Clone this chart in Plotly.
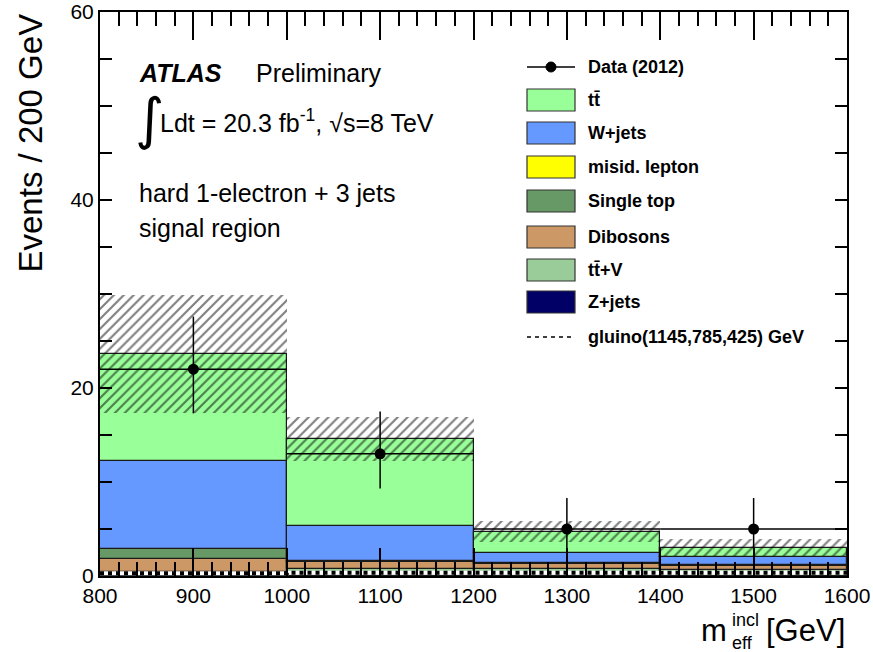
import numpy as np
import plotly.graph_objects as go

# Binning of m_eff^incl [GeV]
bin_edges = [800, 1000, 1200, 1400, 1600]
bin_centers = [900, 1100, 1300, 1500]
bin_width = 200

# Background expectations per bin (stack order: bottom -> top)
zjets = [0.02, 0.02, 0.02, 0.02]
ttv = [0.44, 0.69, 0.69, 0.62]
dibosons = [1.32, 0.81, 0.53, 0.42]
single_top = [1.06, 0.11, 0.11, 0.11]
misid = [0.0, 0.0, 0.0, 0.0]
wjets = [9.39, 3.72, 1.13, 0.82]
ttbar = [11.37, 9.22, 2.23, 1.01]

# Total background uncertainty (symmetric)
bkg_unc = [6.3, 2.38, 1.12, 0.9]

# Observed data with asymmetric Poisson errors
data = [22, 13, 5, 5]
data_err_up = [5.6, 4.5, 3.3, 3.3]
data_err_down = [4.7, 3.7, 2.16, 2.16]

# Signal benchmark
gluino = [0.3, 0.35, 0.35, 0.35]

components = [
    ("Z+jets", zjets, "#000066"),
    ("tt\u0304+V", ttv, "#99cc99"),
    ("Dibosons", dibosons, "#cc9966"),
    ("Single top", single_top, "#669966"),
    ("misid. lepton", misid, "#ffff00"),
    ("W+jets", wjets, "#6699ff"),
    ("tt\u0304", ttbar, "#99ff99"),
]

fig = go.Figure()

base = np.zeros(len(bin_centers))
for name, vals, color in components:
    vals = np.array(vals)
    fig.add_trace(go.Bar(
        x=bin_centers, y=vals, base=base, width=bin_width,
        marker=dict(color=color, line=dict(color="#1a1a1a", width=1.2)),
        name=name, showlegend=False, hoverinfo="skip",
    ))
    base = base + vals
total = base

# Signal line drawn over the lowest part of the stack
sig_y = gluino + [gluino[-1]]
fig.add_trace(go.Scatter(
    x=bin_edges, y=sig_y, mode="lines", line=dict(color="white", width=4, shape="hv"),
    showlegend=False, hoverinfo="skip"))
fig.add_trace(go.Scatter(
    x=bin_edges, y=sig_y, mode="lines",
    line=dict(color="black", width=4, shape="hv", dash="4px,4px"),
    showlegend=False, hoverinfo="skip"))

# Uncertainty band (hatched)
unc = np.array(bkg_unc)
fig.add_trace(go.Bar(
    x=bin_centers, y=2 * unc, base=total - unc, width=bin_width,
    marker=dict(color="rgba(0,0,0,0)", line=dict(width=0),
                pattern=dict(shape="/", fgcolor="black", bgcolor="rgba(0,0,0,0)",
                             size=7, solidity=0.3, fillmode="overlay")),
    showlegend=False, hoverinfo="skip"))

# Data
fig.add_trace(go.Scatter(
    x=bin_centers, y=data, mode="markers",
    marker=dict(color="black", size=11),
    error_y=dict(type="data", symmetric=False, array=data_err_up,
                 arrayminus=data_err_down, color="black", thickness=1.5, width=0),
    error_x=dict(type="constant", value=bin_width / 2, color="black",
                 thickness=1.5, width=0),
    showlegend=False, hoverinfo="skip"))

FONT = "Liberation Sans, Arial, Helvetica, sans-serif"

L, R, T, B = 100, 847, 12, 576
W, H = 873, 652


def px(x):
    return (x - L) / (R - L)


def py(y):
    return (B - y) / (B - T)


annotations = []
shapes = []


def text(x, y, s, size, xanchor="left", yanchor="middle", family=FONT, angle=0):
    annotations.append(dict(
        x=px(x), y=py(y), xref="paper", yref="paper", text=s, showarrow=False,
        xanchor=xanchor, yanchor=yanchor, textangle=angle,
        font=dict(size=size, color="black", family=family)))


# Labels inside the frame
text(137, 73, "<b><i>ATLAS</i></b>", 25)
text(254, 73, "Preliminary", 25)
text(133, 119, "\u222b", 56, family="DejaVu Sans")
text(158, 121, "Ldt = 20.3 fb<sup>-1</sup>, \u221as=8 TeV", 25)
text(137, 193, "hard 1-electron + 3 jets", 25)
text(137, 228, "signal region", 25)

# Legend
leg_x0, leg_x1 = 527, 575
leg_text_x = 586
rows = [67, 100, 133, 167, 201, 237, 270, 302, 337]

shapes.append(dict(type="line", xref="paper", yref="paper",
                   x0=px(leg_x0), x1=px(leg_x1), y0=py(rows[0]), y1=py(rows[0]),
                   line=dict(color="black", width=1.5)))
shapes.append(dict(type="circle", xref="paper", yref="paper",
                   x0=px(546), x1=px(556), y0=py(rows[0] + 5), y1=py(rows[0] - 5),
                   fillcolor="black", line=dict(color="black", width=1)))
text(leg_text_x, rows[0], "<b>Data (2012)</b>", 18)

legend_boxes = list(reversed(components))
for (name, _, color), ry in zip(legend_boxes, rows[1:8]):
    shapes.append(dict(type="rect", xref="paper", yref="paper",
                       x0=px(leg_x0), x1=px(leg_x1), y0=py(ry + 11), y1=py(ry - 11),
                       fillcolor=color, line=dict(color="#333333", width=1.2)))
    text(leg_text_x, ry, "<b>%s</b>" % name, 18)

shapes.append(dict(type="line", xref="paper", yref="paper",
                   x0=px(leg_x0), x1=px(leg_x1), y0=py(rows[8]), y1=py(rows[8]),
                   line=dict(color="black", width=1.6, dash="4px,4px")))
text(leg_text_x, rows[8], "<b>gluino(1145,785,425) GeV</b>", 18)

# Axis titles
text(30, 12, "Events / 200 GeV", 33, xanchor="center", yanchor="top", angle=-90)
text(729, 630, "m", 31, xanchor="right")
text(730, 620, "incl", 18)
text(730, 643, "eff", 18)
text(847, 630, "[GeV]", 31, xanchor="right")

fig.update_layout(
    width=W, height=H,
    margin=dict(l=L, r=W - R, t=T, b=H - B, autoexpand=False),
    paper_bgcolor="white", plot_bgcolor="white",
    barmode="overlay", bargap=0,
    showlegend=False,
    annotations=annotations, shapes=shapes,
    font=dict(family=FONT, color="black"),
    xaxis=dict(range=[800, 1600], showgrid=False, zeroline=False, automargin=False,
               showline=True, linecolor="black", linewidth=2, mirror="ticks",
               ticks="inside", ticklen=28, tickwidth=1.5, tickcolor="black",
               dtick=100, tick0=800,
               minor=dict(ticks="inside", ticklen=14, dtick=20, tickwidth=1.5,
                          tickcolor="black"),
               tickfont=dict(size=21, family=FONT, color="black")),
    yaxis=dict(range=[0, 60], showgrid=False, zeroline=False, automargin=False,
               showline=True, linecolor="black", linewidth=2, mirror="ticks",
               ticks="inside", ticklen=12, tickwidth=1.5, tickcolor="black",
               dtick=20, tick0=0,
               minor=dict(ticks="inside", ticklen=12, dtick=5, tickwidth=1.5,
                          tickcolor="black"),
               tickfont=dict(size=21, family=FONT, color="black")),
)

fig.write_html("out.html")
